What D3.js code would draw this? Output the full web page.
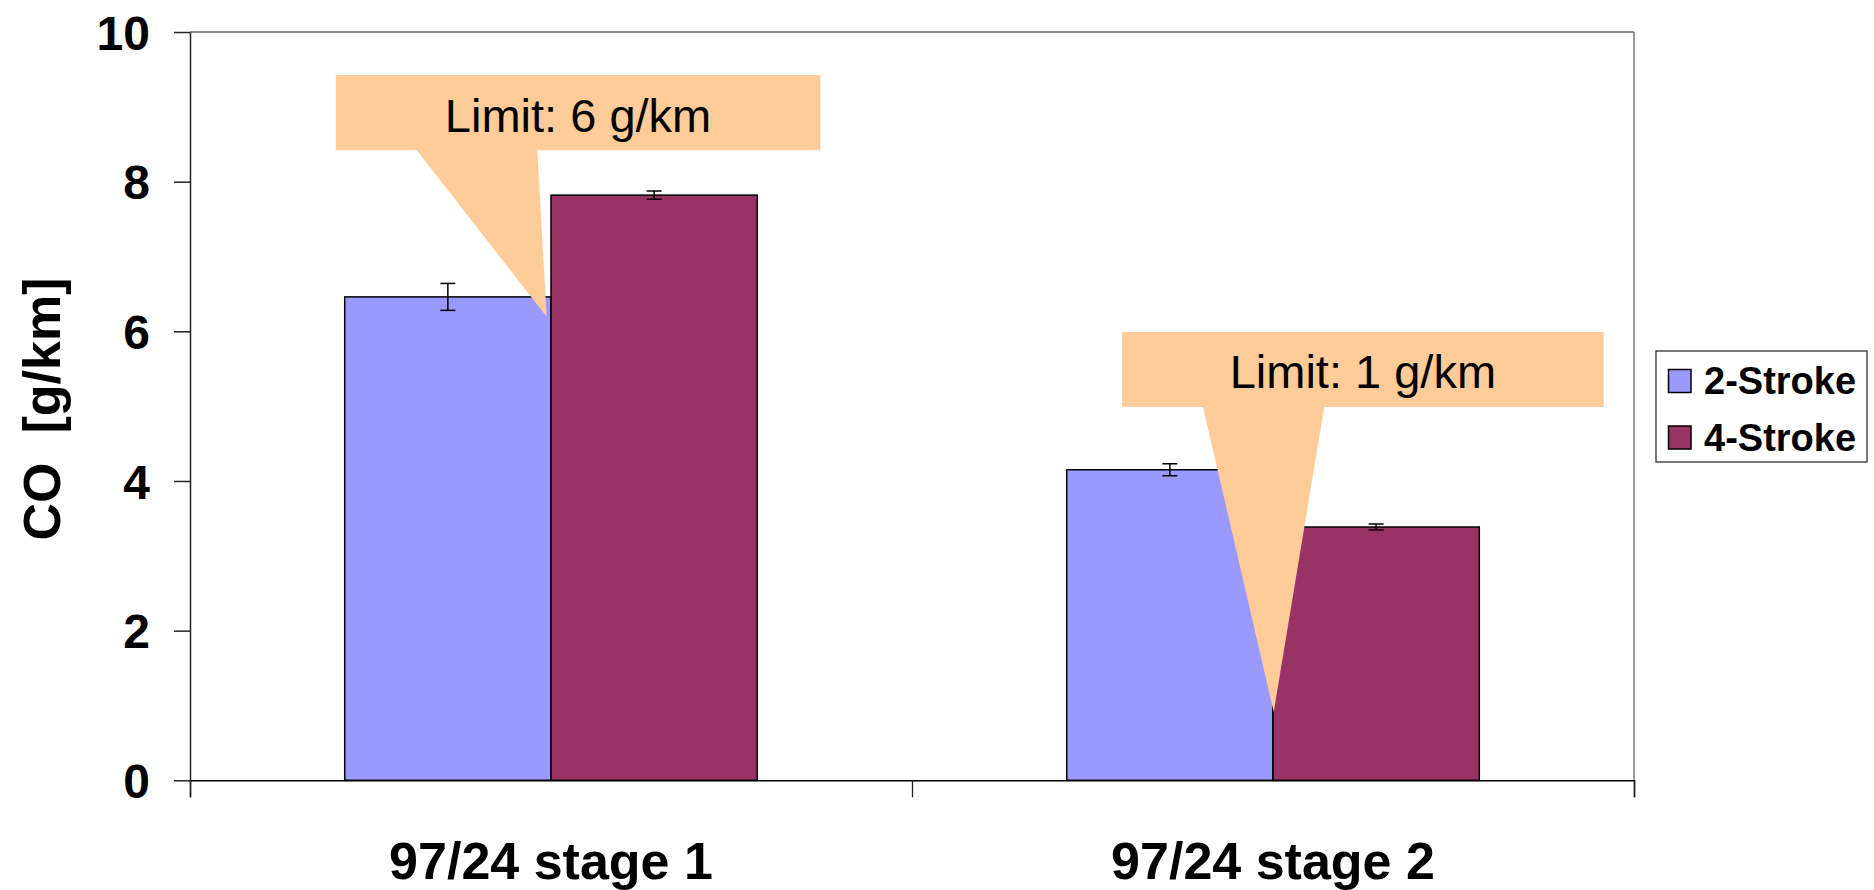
<!DOCTYPE html>
<html>
<head>
<meta charset="utf-8">
<script src="https://cdn.jsdelivr.net/npm/d3@7"></script>
<style>
  html, body { margin: 0; padding: 0; background: #fff; }
  svg { display: block; }
  text { font-family: "Liberation Sans", Arial, sans-serif; }
</style>
</head>
<body>
<svg id="chart" width="1874" height="890"></svg>
<script>
// ---- data ----
const categories = ["97/24 stage 1", "97/24 stage 2"];
const seriesNames = ["2-Stroke", "4-Stroke"];
const twoStroke = [6.46, 4.15];
const fourStroke = [7.82, 3.385];
const twoStrokeErr = [0.18, 0.08];
const fourStrokeErr = [0.055, 0.04];
const yTicks = [0, 2, 4, 6, 8, 10];
const yTitle = "CO  [g/km]";
const colors = ["#9999FF", "#993366"];

// callout annotations (x in category units 0..2, y in data units)
const calloutTexts = ["Limit: 6 g/km", "Limit: 1 g/km"];
const calloutBoxX = [[0.202, 0.873], [1.291, 1.958]];
const calloutBoxY = [[8.42, 9.425], [4.99, 5.99]];
const calloutBaseX = [[0.314, 0.481], [1.403, 1.571]];
const calloutTip = [[0.494, 6.195], [1.501, 0.913]];

(function () {
// ---- layout ----
const svg = d3.select("#chart");
const mLeft = 190, mRight = 1634, mTop = 32, mBottom = 780.3;
const font = '"Liberation Sans", Arial, sans-serif';

const y = d3.scaleLinear().domain([0, 10]).range([mBottom, mTop]);
const x0 = d3.scaleBand().domain(categories).range([mLeft, mRight]).padding(0);
const xu = d3.scaleLinear().domain([0, 2]).range([mLeft, mRight]);
const bw = x0.bandwidth() / 3.5;
const x1 = d3.scaleBand().domain(seriesNames).range([0.75 * bw, 2.75 * bw]).padding(0);

const values = [twoStroke, fourStroke];
const errs = [twoStrokeErr, fourStrokeErr];

// plot border (top & right)
svg.append("line").attr("x1", mLeft).attr("x2", mRight).attr("y1", mTop).attr("y2", mTop)
  .attr("stroke", "#666").attr("stroke-width", 1.3);
svg.append("line").attr("x1", mRight).attr("x2", mRight).attr("y1", mTop).attr("y2", mBottom)
  .attr("stroke", "#666").attr("stroke-width", 1.3);

// bars
const data = [];
seriesNames.forEach((s, si) => categories.forEach((c, ci) => {
  data.push({ s, si, c, v: values[si][ci], e: errs[si][ci] });
}));

svg.append("g").selectAll("rect").data(data).join("rect")
  .attr("x", d => x0(d.c) + x1(d.s))
  .attr("y", d => y(d.v))
  .attr("width", x1.bandwidth())
  .attr("height", d => y(0) - y(d.v))
  .attr("fill", d => colors[d.si])
  .attr("stroke", "#000")
  .attr("stroke-width", 1.5);

// error bars
const eg = svg.append("g").attr("stroke", "#000").attr("stroke-width", 1.5);
data.forEach(d => {
  const cx = x0(d.c) + x1(d.s) + x1.bandwidth() / 2;
  eg.append("line").attr("x1", cx).attr("x2", cx).attr("y1", y(d.v + d.e)).attr("y2", y(d.v - d.e));
  eg.append("line").attr("x1", cx - 7.5).attr("x2", cx + 7.5).attr("y1", y(d.v + d.e)).attr("y2", y(d.v + d.e));
  eg.append("line").attr("x1", cx - 7.5).attr("x2", cx + 7.5).attr("y1", y(d.v - d.e)).attr("y2", y(d.v - d.e));
});

// y axis
const yAxis = svg.append("g").attr("transform", `translate(${mLeft},0)`)
  .call(d3.axisLeft(y).tickValues(yTicks).tickSize(16).tickPadding(24).tickSizeOuter(0));
yAxis.select(".domain").attr("stroke", "#222").attr("stroke-width", 1.5);
yAxis.selectAll(".tick line").attr("stroke", "#222").attr("stroke-width", 1.5);
yAxis.selectAll(".tick text")
  .attr("font-family", font).attr("font-size", 48).attr("font-weight", "bold")
  .attr("fill", "#000").attr("dy", "0.36em");

// x axis
const xAxis = svg.append("g").attr("transform", `translate(0,${mBottom})`)
  .call(d3.axisBottom(xu).tickValues([0, 1, 2]).tickSize(17).tickFormat(""));
xAxis.select(".domain").attr("stroke", "#000").attr("stroke-width", 1.5);
xAxis.selectAll(".tick line").attr("stroke", "#222").attr("stroke-width", 1.3);

svg.append("g").selectAll("text").data(categories).join("text")
  .attr("x", d => x0(d) + x0.bandwidth() / 2)
  .attr("y", 879)
  .attr("text-anchor", "middle")
  .attr("font-family", font).attr("font-size", 52).attr("font-weight", "bold")
  .text(d => d);

// y title
svg.append("text")
  .attr("transform", `translate(60,409) rotate(-90)`)
  .attr("text-anchor", "middle")
  .attr("font-family", font).attr("font-size", 52).attr("font-weight", "bold")
  .attr("xml:space", "preserve")
  .style("white-space", "pre")
  .text(yTitle);

// callouts
calloutTexts.forEach((t, i) => {
  const bx0 = xu(calloutBoxX[i][0]), bx1 = xu(calloutBoxX[i][1]);
  const byTop = y(calloutBoxY[i][1]), byBot = y(calloutBoxY[i][0]);
  const g = svg.append("g");
  const pts = [
    [bx0, byTop], [bx1, byTop], [bx1, byBot],
    [xu(calloutBaseX[i][1]), byBot],
    [xu(calloutTip[i][0]), y(calloutTip[i][1])],
    [xu(calloutBaseX[i][0]), byBot],
    [bx0, byBot]
  ];
  g.append("polygon").attr("points", pts.map(p => p.join(",")).join(" "))
    .attr("fill", "#FFCC99");
  g.append("text")
    .attr("x", (bx0 + bx1) / 2)
    .attr("y", (byTop + byBot) / 2 + 19)
    .attr("text-anchor", "middle")
    .attr("font-family", font).attr("font-size", 47)
    .text(t);
});

// legend
const lg = svg.append("g");
lg.append("rect").attr("x", 1656).attr("y", 351).attr("width", 211).attr("height", 111)
  .attr("fill", "#fff").attr("stroke", "#333").attr("stroke-width", 1.3);
seriesNames.forEach((s, i) => {
  lg.append("rect").attr("x", 1668.5).attr("y", 369.5 + i * 56.5).attr("width", 22.5).attr("height", 23)
    .attr("fill", colors[i]).attr("stroke", "#000").attr("stroke-width", 1.5);
  lg.append("text").attr("x", 1704).attr("y", 394 + i * 56.5)
    .attr("font-family", font).attr("font-size", 38).attr("font-weight", "bold")
    .text(s);
});
})();
</script>
</body>
</html>
